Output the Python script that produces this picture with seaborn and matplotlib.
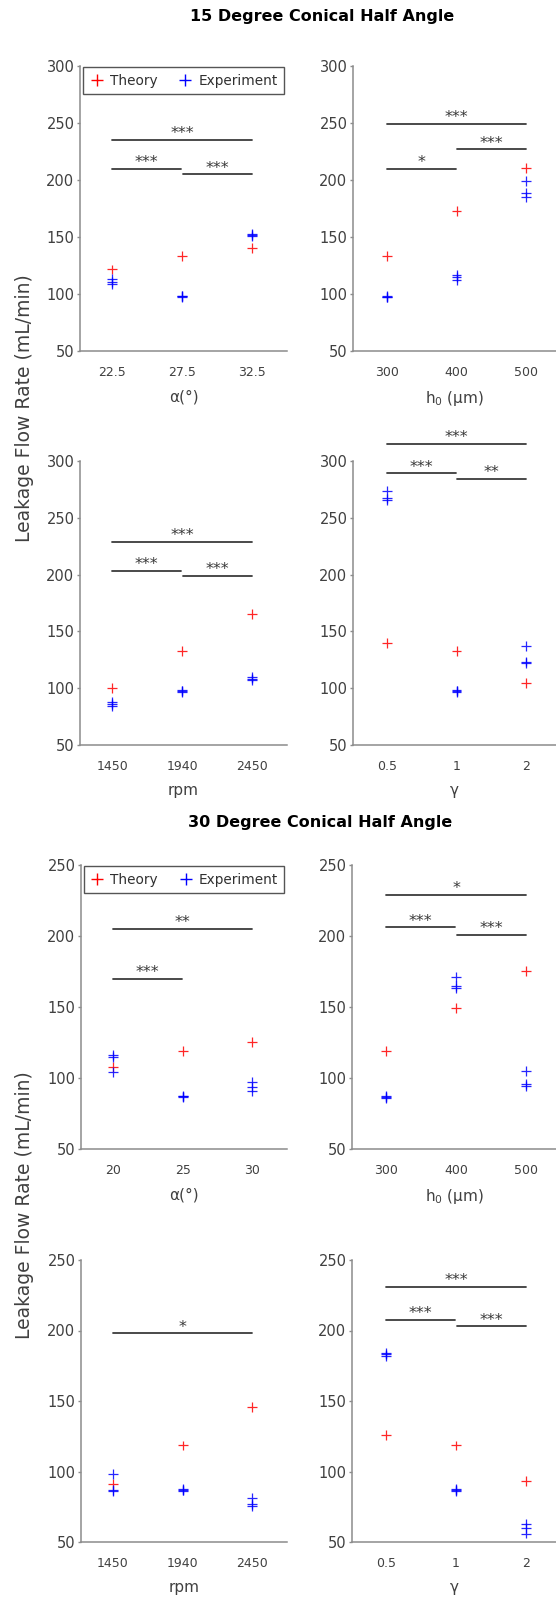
import matplotlib
matplotlib.use('Agg')
import matplotlib.pyplot as plt
from matplotlib.lines import Line2D
import seaborn as sns
import numpy as np
import pandas as pd

# ---- 15 degree conical half angle ----
a15_ticks = ['22.5', '27.5', '32.5']
a15_theory = [121.5, 133, 140]
a15_exp = [[113, 110.5, 108.5], [98.5, 98, 97.5], [153, 151.5, 150.5]]
a15_sig = [(0, 2, 235, '***'), (0, 1, 210, '***'), (1, 2, 205, '***')]

h15_ticks = ['300', '400', '500']
h15_theory = [133, 173, 210.5]
h15_exp = [[98.5, 97.5, 97], [117, 115, 112.5], [199, 189, 185]]
h15_sig = [(0, 2, 249, '***'), (0, 1, 210, '*'), (1, 2, 227, '***')]

rpm15_ticks = ['1450', '1940', '2450']
rpm15_theory = [100.5, 133, 165]
rpm15_exp = [[88, 86, 84], [98, 97.5, 97], [110, 108.5, 107.5]]
rpm15_sig = [(0, 2, 229, '***'), (0, 1, 203, '***'), (1, 2, 199, '***')]

g15_ticks = ['0.5', '1', '2']
g15_theory = [140, 132.5, 104.5]
g15_exp = [[274, 267, 265.5], [98, 97.5, 96.5], [137, 123.5, 122]]
g15_sig = [(0, 2, 315, '***'), (0, 1, 289, '***'), (1, 2, 284, '**')]

# ---- 30 degree conical half angle ----
a30_ticks = ['20', '25', '30']
a30_theory = [107.5, 119, 125.5]
a30_exp = [[116, 114.5, 104.5], [87.5, 87, 86.5], [97, 93.5, 91]]
a30_sig = [(0, 2, 205, '**'), (0, 1, 170, '***')]

h30_ticks = ['300', '400', '500']
h30_theory = [119, 149.5, 175.5]
h30_exp = [[87.5, 86.5, 86], [171, 164.5, 163.5], [105, 96, 94.5]]
h30_sig = [(0, 2, 229, '*'), (0, 1, 206, '***'), (1, 2, 201, '***')]

rpm30_ticks = ['1450', '1940', '2450']
rpm30_theory = [91, 118.5, 146]
rpm30_exp = [[98, 87, 86], [87.5, 87, 86.5], [81, 77, 75.5]]
rpm30_sig = [(0, 2, 198, '*')]

g30_ticks = ['0.5', '1', '2']
g30_theory = [126, 118.5, 93.5]
g30_exp = [[184, 183, 182], [87.5, 87, 86], [62.5, 60, 56]]
g30_sig = [(0, 2, 231, '***'), (0, 1, 207.5, '***'), (1, 2, 203, '***')]

sns.set_style('white')
plt.rcParams['font.family'] = ['DejaVu Sans']

pal = {'Theory': '#ff0000', 'Experiment': '#0000ff'}
txt_col = '#404040'
spine_col = '#8c8c8c'


def panel(ax, ticks, theory, exp, sig, xlabel, ylim, xlim):
    rows = []
    for i, v in enumerate(theory):
        rows.append((i, v, 'Theory'))
    for i, vals in enumerate(exp):
        for v in vals:
            rows.append((i, v, 'Experiment'))
    df = pd.DataFrame(rows, columns=['pos', 'flow', 'series'])
    sns.scatterplot(data=df, x='pos', y='flow', hue='series', palette=pal,
                    marker='+', s=50, linewidth=0.9, alpha=0.85,
                    legend=False, ax=ax)
    ax.set_xlim(*xlim)
    ax.set_ylim(*ylim)
    ax.set_yticks(np.arange(ylim[0], ylim[1] + 1, 50))
    ax.set_xticks(range(len(ticks)))
    ax.set_xticklabels(ticks)
    ax.tick_params(axis='x', length=0, pad=11, labelsize=9, labelcolor=txt_col)
    ax.tick_params(axis='y', length=2.5, width=1, pad=1.5, labelsize=10.5,
                   labelcolor=txt_col, color=spine_col, left=True)
    ax.set_xlabel(xlabel, fontsize=11, color=txt_col, labelpad=7)
    ax.set_ylabel('')
    sns.despine(ax=ax)
    for s in ['left', 'bottom']:
        ax.spines[s].set_color(spine_col)
        ax.spines[s].set_linewidth(1.1)
    for x0, x1, y, stars in sig:
        if x1 - x0 == 1:
            x0, x1 = x0 + (0.01 if x0 > 0 else 0), x1 - (0.01 if x1 < 2 else 0)
        ax.plot([x0, x1], [y, y], color='#3c3c3c', lw=1.3, clip_on=False)
        ax.text((x0 + x1) / 2, y + (ylim[1] - ylim[0]) * 0.006, stars,
                ha='center', va='baseline', fontsize=11.5, color='#383838',
                clip_on=False)


fig = plt.figure(figsize=(5.56, 16), dpi=100)
W, H = 556.0, 1600.0


def add_ax(x0, x1, ytop, ybot):
    return fig.add_axes([x0 / W, 1 - ybot / H, (x1 - x0) / W, (ybot - ytop) / H])


ax1 = add_ax(80, 287, 66, 351)
ax2 = add_ax(353, 556, 66, 351)
ax3 = add_ax(80, 287, 461, 745)
ax4 = add_ax(353, 556, 461, 745)
ax5 = add_ax(81, 287, 865, 1149)
ax6 = add_ax(352, 556, 865, 1149)
ax7 = add_ax(81, 287, 1260, 1542)
ax8 = add_ax(352, 556, 1260, 1542)

xl_left = (-0.46, 2.5)
xl_right = (-0.49, 2.43)

panel(ax1, a15_ticks, a15_theory, a15_exp, a15_sig, 'α(°)', (50, 300), xl_left)
panel(ax2, h15_ticks, h15_theory, h15_exp, h15_sig, 'h$_0$ (μm)', (50, 300), xl_right)
panel(ax3, rpm15_ticks, rpm15_theory, rpm15_exp, rpm15_sig, 'rpm', (50, 300), xl_left)
panel(ax4, g15_ticks, g15_theory, g15_exp, g15_sig, 'γ', (50, 300), xl_right)
panel(ax5, a30_ticks, a30_theory, a30_exp, a30_sig, 'α(°)', (50, 250), xl_left)
panel(ax6, h30_ticks, h30_theory, h30_exp, h30_sig, 'h$_0$ (μm)', (50, 250), xl_right)
panel(ax7, rpm30_ticks, rpm30_theory, rpm30_exp, rpm30_sig, 'rpm', (50, 250), xl_left)
panel(ax8, g30_ticks, g30_theory, g30_exp, g30_sig, 'γ', (50, 250), xl_right)

handles = [Line2D([], [], ls='', marker='+', color=pal['Theory'], markersize=9, mew=1),
           Line2D([], [], ls='', marker='+', color=pal['Experiment'], markersize=9, mew=1)]
for ax in (ax1, ax5):
    leg = ax.legend(handles, ['Theory', 'Experiment'], ncol=2, loc='upper center',
                    bbox_to_anchor=(0.5, 0.995), fontsize=9.8, frameon=True,
                    fancybox=False, framealpha=1, handlelength=1.1,
                    handletextpad=0.4, columnspacing=1.5, borderpad=0.45,
                    borderaxespad=0)
    leg.get_frame().set_edgecolor('#555555')
    leg.get_frame().set_linewidth(1.0)
    for t in leg.get_texts():
        t.set_color('#303030')

fig.text(322 / W, 1 - 17 / H, '15 Degree Conical Half Angle', ha='center',
         va='center', fontsize=11.5, fontweight='bold', color='black')
fig.text(320 / W, 1 - 823 / H, '30 Degree Conical Half Angle', ha='center',
         va='center', fontsize=11.5, fontweight='bold', color='black')

fig.text(25 / W, 1 - 408 / H, 'Leakage Flow Rate (mL/min)', rotation=90,
         ha='center', va='center', fontsize=13.5, color=txt_col)
fig.text(25 / W, 1 - 1205 / H, 'Leakage Flow Rate (mL/min)', rotation=90,
         ha='center', va='center', fontsize=13.5, color=txt_col)

fig.savefig('out.png', dpi=100)
plt.close(fig)
